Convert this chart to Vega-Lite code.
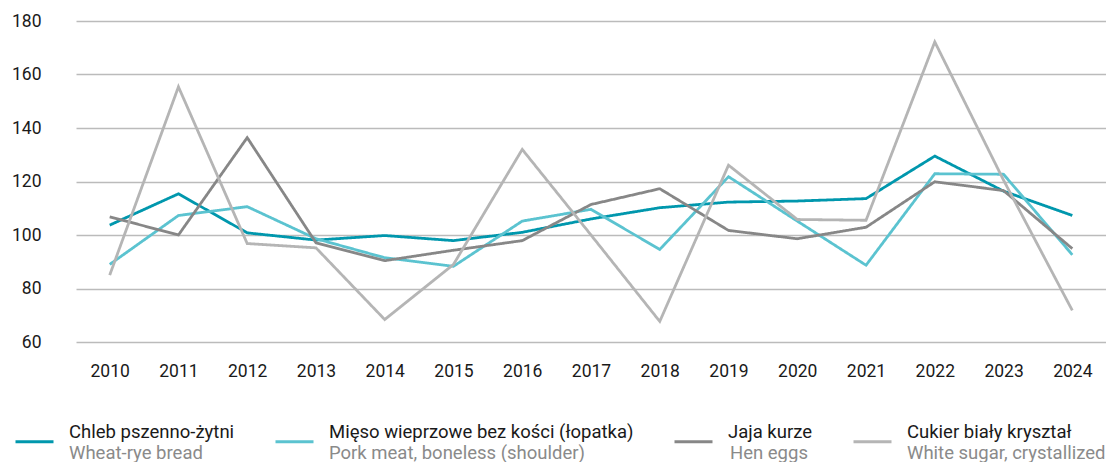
{
  "$schema": "https://vega.github.io/schema/vega-lite/v6.json",
  "width": 1030,
  "height": 321,
  "autosize": {"type": "none"},
  "padding": {"left": 76, "top": 21, "right": 0, "bottom": 120},
  "background": "white",
  "config": {"view": {"stroke": null}, "font": "Roboto"},
  "data": {
    "values": [
      {"rok": "2010", "seria": "Chleb pszenno-żytni", "en": "Wheat-rye bread", "v": 103.7},
      {"rok": "2011", "seria": "Chleb pszenno-żytni", "en": "Wheat-rye bread", "v": 115.4},
      {"rok": "2012", "seria": "Chleb pszenno-żytni", "en": "Wheat-rye bread", "v": 100.8},
      {"rok": "2013", "seria": "Chleb pszenno-żytni", "en": "Wheat-rye bread", "v": 98.1},
      {"rok": "2014", "seria": "Chleb pszenno-żytni", "en": "Wheat-rye bread", "v": 99.8},
      {"rok": "2015", "seria": "Chleb pszenno-żytni", "en": "Wheat-rye bread", "v": 97.9},
      {"rok": "2016", "seria": "Chleb pszenno-żytni", "en": "Wheat-rye bread", "v": 101.0},
      {"rok": "2017", "seria": "Chleb pszenno-żytni", "en": "Wheat-rye bread", "v": 106.0},
      {"rok": "2018", "seria": "Chleb pszenno-żytni", "en": "Wheat-rye bread", "v": 110.2},
      {"rok": "2019", "seria": "Chleb pszenno-żytni", "en": "Wheat-rye bread", "v": 112.3},
      {"rok": "2020", "seria": "Chleb pszenno-żytni", "en": "Wheat-rye bread", "v": 112.7},
      {"rok": "2021", "seria": "Chleb pszenno-żytni", "en": "Wheat-rye bread", "v": 113.6},
      {"rok": "2022", "seria": "Chleb pszenno-żytni", "en": "Wheat-rye bread", "v": 129.5},
      {"rok": "2023", "seria": "Chleb pszenno-żytni", "en": "Wheat-rye bread", "v": 116.4},
      {"rok": "2024", "seria": "Chleb pszenno-żytni", "en": "Wheat-rye bread", "v": 107.3},
      {"rok": "2010", "seria": "Mięso wieprzowe bez kości (łopatka)", "en": "Pork meat, boneless (shoulder)", "v": 89.0},
      {"rok": "2011", "seria": "Mięso wieprzowe bez kości (łopatka)", "en": "Pork meat, boneless (shoulder)", "v": 107.3},
      {"rok": "2012", "seria": "Mięso wieprzowe bez kości (łopatka)", "en": "Pork meat, boneless (shoulder)", "v": 110.6},
      {"rok": "2013", "seria": "Mięso wieprzowe bez kości (łopatka)", "en": "Pork meat, boneless (shoulder)", "v": 98.6},
      {"rok": "2014", "seria": "Mięso wieprzowe bez kości (łopatka)", "en": "Pork meat, boneless (shoulder)", "v": 91.5},
      {"rok": "2015", "seria": "Mięso wieprzowe bez kości (łopatka)", "en": "Pork meat, boneless (shoulder)", "v": 88.3},
      {"rok": "2016", "seria": "Mięso wieprzowe bez kości (łopatka)", "en": "Pork meat, boneless (shoulder)", "v": 105.2},
      {"rok": "2017", "seria": "Mięso wieprzowe bez kości (łopatka)", "en": "Pork meat, boneless (shoulder)", "v": 109.6},
      {"rok": "2018", "seria": "Mięso wieprzowe bez kości (łopatka)", "en": "Pork meat, boneless (shoulder)", "v": 94.6},
      {"rok": "2019", "seria": "Mięso wieprzowe bez kości (łopatka)", "en": "Pork meat, boneless (shoulder)", "v": 121.8},
      {"rok": "2020", "seria": "Mięso wieprzowe bez kości (łopatka)", "en": "Pork meat, boneless (shoulder)", "v": 105.2},
      {"rok": "2021", "seria": "Mięso wieprzowe bez kości (łopatka)", "en": "Pork meat, boneless (shoulder)", "v": 88.7},
      {"rok": "2022", "seria": "Mięso wieprzowe bez kości (łopatka)", "en": "Pork meat, boneless (shoulder)", "v": 122.9},
      {"rok": "2023", "seria": "Mięso wieprzowe bez kości (łopatka)", "en": "Pork meat, boneless (shoulder)", "v": 122.7},
      {"rok": "2024", "seria": "Mięso wieprzowe bez kości (łopatka)", "en": "Pork meat, boneless (shoulder)", "v": 92.6},
      {"rok": "2010", "seria": "Jaja kurze", "en": "Hen eggs", "v": 106.8},
      {"rok": "2011", "seria": "Jaja kurze", "en": "Hen eggs", "v": 100.0},
      {"rok": "2012", "seria": "Jaja kurze", "en": "Hen eggs", "v": 136.4},
      {"rok": "2013", "seria": "Jaja kurze", "en": "Hen eggs", "v": 97.1},
      {"rok": "2014", "seria": "Jaja kurze", "en": "Hen eggs", "v": 90.4},
      {"rok": "2015", "seria": "Jaja kurze", "en": "Hen eggs", "v": 94.3},
      {"rok": "2016", "seria": "Jaja kurze", "en": "Hen eggs", "v": 97.9},
      {"rok": "2017", "seria": "Jaja kurze", "en": "Hen eggs", "v": 111.4},
      {"rok": "2018", "seria": "Jaja kurze", "en": "Hen eggs", "v": 117.3},
      {"rok": "2019", "seria": "Jaja kurze", "en": "Hen eggs", "v": 101.7},
      {"rok": "2020", "seria": "Jaja kurze", "en": "Hen eggs", "v": 98.6},
      {"rok": "2021", "seria": "Jaja kurze", "en": "Hen eggs", "v": 102.9},
      {"rok": "2022", "seria": "Jaja kurze", "en": "Hen eggs", "v": 119.9},
      {"rok": "2023", "seria": "Jaja kurze", "en": "Hen eggs", "v": 116.6},
      {"rok": "2024", "seria": "Jaja kurze", "en": "Hen eggs", "v": 94.9},
      {"rok": "2010", "seria": "Cukier biały kryształ", "en": "White sugar, crystallized", "v": 85.0},
      {"rok": "2011", "seria": "Cukier biały kryształ", "en": "White sugar, crystallized", "v": 155.4},
      {"rok": "2012", "seria": "Cukier biały kryształ", "en": "White sugar, crystallized", "v": 96.8},
      {"rok": "2013", "seria": "Cukier biały kryształ", "en": "White sugar, crystallized", "v": 95.2},
      {"rok": "2014", "seria": "Cukier biały kryształ", "en": "White sugar, crystallized", "v": 68.4},
      {"rok": "2015", "seria": "Cukier biały kryształ", "en": "White sugar, crystallized", "v": 89.0},
      {"rok": "2016", "seria": "Cukier biały kryształ", "en": "White sugar, crystallized", "v": 132.0},
      {"rok": "2017", "seria": "Cukier biały kryształ", "en": "White sugar, crystallized", "v": 100.0},
      {"rok": "2018", "seria": "Cukier biały kryształ", "en": "White sugar, crystallized", "v": 67.7},
      {"rok": "2019", "seria": "Cukier biały kryształ", "en": "White sugar, crystallized", "v": 126.1},
      {"rok": "2020", "seria": "Cukier biały kryształ", "en": "White sugar, crystallized", "v": 105.8},
      {"rok": "2021", "seria": "Cukier biały kryształ", "en": "White sugar, crystallized", "v": 105.5},
      {"rok": "2022", "seria": "Cukier biały kryształ", "en": "White sugar, crystallized", "v": 172.2},
      {"rok": "2023", "seria": "Cukier biały kryształ", "en": "White sugar, crystallized", "v": 120.5},
      {"rok": "2024", "seria": "Cukier biały kryształ", "en": "White sugar, crystallized", "v": 71.8}
    ]
  },
  "mark": {"type": "line", "strokeWidth": 2.8},
  "encoding": {
    "x": {
      "field": "rok", "type": "ordinal",
      "scale": {"type": "point", "padding": 0.49},
      "axis": {"title": null, "labelAngle": 0, "domain": false, "ticks": false, "grid": false,
        "labelPadding": 20, "labelFont": "Roboto", "labelFontSize": 17.5, "labelColor": "#1a1a1a"}
    },
    "y": {
      "field": "v", "type": "quantitative",
      "scale": {"domain": [60, 180], "nice": false, "zero": false},
      "axis": {"title": null, "values": [60, 80, 100, 120, 140, 160, 180], "domain": false, "ticks": false,
        "grid": true, "gridColor": "#BBBBBB", "gridWidth": 1.3,
        "labelPadding": 35, "labelFont": "Roboto", "labelFontSize": 17.5, "labelColor": "#1a1a1a"}
    },
    "color": {
      "field": "seria", "type": "nominal",
      "scale": {
        "domain": ["Chleb pszenno-żytni", "Mięso wieprzowe bez kości (łopatka)", "Jaja kurze", "Cukier biały kryształ"],
        "range": ["#0097AD", "#5BC3D0", "#878787", "#B5B5B5"]
      },
      "legend": {"title": null, "orient": "none", "legendX": -62, "legendY": 400, "direction": "horizontal",
        "symbolType": "stroke", "symbolSize": 1444, "symbolStrokeWidth": 3,
        "labelFont": "Roboto", "labelFontSize": 18.5, "labelColor": "#1a1a1a", "labelBaseline": "bottom",
        "labelOffset": 14, "columnPadding": 34, "labelLimit": 500, "padding": 0}
    },
    "strokeDash": {
      "field": "en", "type": "nominal",
      "scale": {
        "domain": ["Wheat-rye bread", "Pork meat, boneless (shoulder)", "Hen eggs", "White sugar, crystallized"],
        "range": [[1, 0], [1, 0], [1, 0], [1, 0]]
      },
      "legend": {"title": null, "orient": "none", "legendX": -62, "legendY": 402, "direction": "horizontal",
        "symbolType": "stroke", "symbolSize": 1444, "symbolStrokeWidth": 3, "symbolOpacity": 0,
        "labelExpr": "datum.label == 'Wheat-rye bread' ? datum.label + '\u00a0\u00a0\u00a0\u00a0\u00a0\u00a0\u00a0\u00a0\u200b' : datum.label == 'Pork meat, boneless (shoulder)' ? datum.label + '\u00a0\u00a0\u00a0\u00a0\u00a0\u00a0\u00a0\u00a0\u00a0\u00a0\u00a0\u00a0\u200b' : datum.label == 'Hen eggs' ? datum.label + '\u00a0\u00a0\u200b' : datum.label",
        "labelFont": "Roboto", "labelFontSize": 18.5, "labelColor": "#8a8a8a", "labelBaseline": "top",
        "labelOffset": 14, "columnPadding": 34, "labelLimit": 500, "padding": 0}
    }
  }
}
